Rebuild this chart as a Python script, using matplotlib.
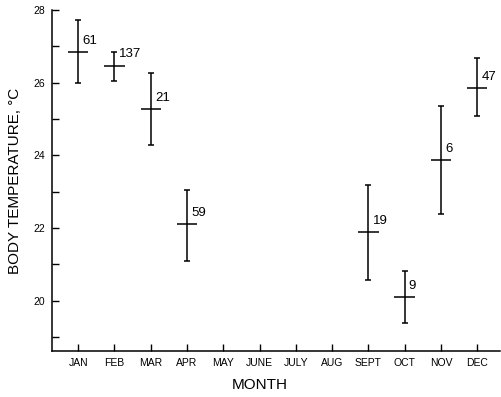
import numpy as np
import matplotlib.pyplot as plt

months = ['JAN', 'FEB', 'MAR', 'APR', 'MAY', 'JUNE', 'JULY', 'AUG', 'SEPT', 'OCT', 'NOV', 'DEC']

# months with data (1 = JAN)
obs_month = [1, 2, 3, 4, 9, 10, 11, 12]
temp_mean = [26.85, 26.47, 25.27, 22.10, 21.88, 20.10, 23.87, 25.86]
temp_high = [27.72, 26.85, 26.26, 23.04, 23.18, 20.81, 25.36, 26.69]
temp_low = [25.98, 26.04, 24.29, 21.09, 20.58, 19.38, 22.38, 25.09]
n_obs = ['61', '137', '21', '59', '19', '9', '6', '47']

plt.rcParams['font.family'] = ['Liberation Sans', 'DejaVu Sans']

fig = plt.figure(figsize=(5.01, 3.97), dpi=100)
ax = fig.add_axes([0.104, 0.116, 0.894, 0.859])

x = np.array(obs_month)
m = np.array(temp_mean)
yerr = [m - np.array(temp_low), np.array(temp_high) - m]
ax.errorbar(x, m, yerr=yerr, fmt='none', ecolor='black', elinewidth=1.1, capsize=2.5, capthick=1.1)
ax.errorbar(x, m, xerr=0.28, fmt='none', ecolor='black', elinewidth=1.1, capsize=0)

for xi, yi, lab in zip(obs_month, temp_mean, n_obs):
    ax.annotate(lab, (xi, yi), xytext=(3, 8), textcoords='offset points',
                fontsize=9.5, va='center', ha='left')

ax.set_xlim(0.28, 12.63)
ax.set_ylim(18.62, 28)
ax.set_xticks(range(1, 13))
ax.set_xticklabels(months, fontsize=7.5)
ax.set_yticks([20, 22, 24, 26, 28])
ax.set_yticks([19, 21, 23, 25, 27], minor=True)
ax.tick_params(axis='both', which='both', direction='in', color='black', width=1)
ax.tick_params(axis='y', which='major', length=5, labelsize=7.5, pad=5)
ax.tick_params(axis='y', which='minor', length=5)
ax.tick_params(axis='x', length=5, pad=5)
ax.spines['top'].set_visible(False)
ax.spines['right'].set_visible(False)
ax.spines['left'].set_linewidth(1.1)
ax.spines['bottom'].set_linewidth(1.1)

ax.set_xlabel('MONTH', fontsize=11)
ax.xaxis.set_label_coords(0.464, -0.078)
ax.set_ylabel('BODY TEMPERATURE, °C', fontsize=11, labelpad=8)

fig.savefig('out.png', dpi=100)
